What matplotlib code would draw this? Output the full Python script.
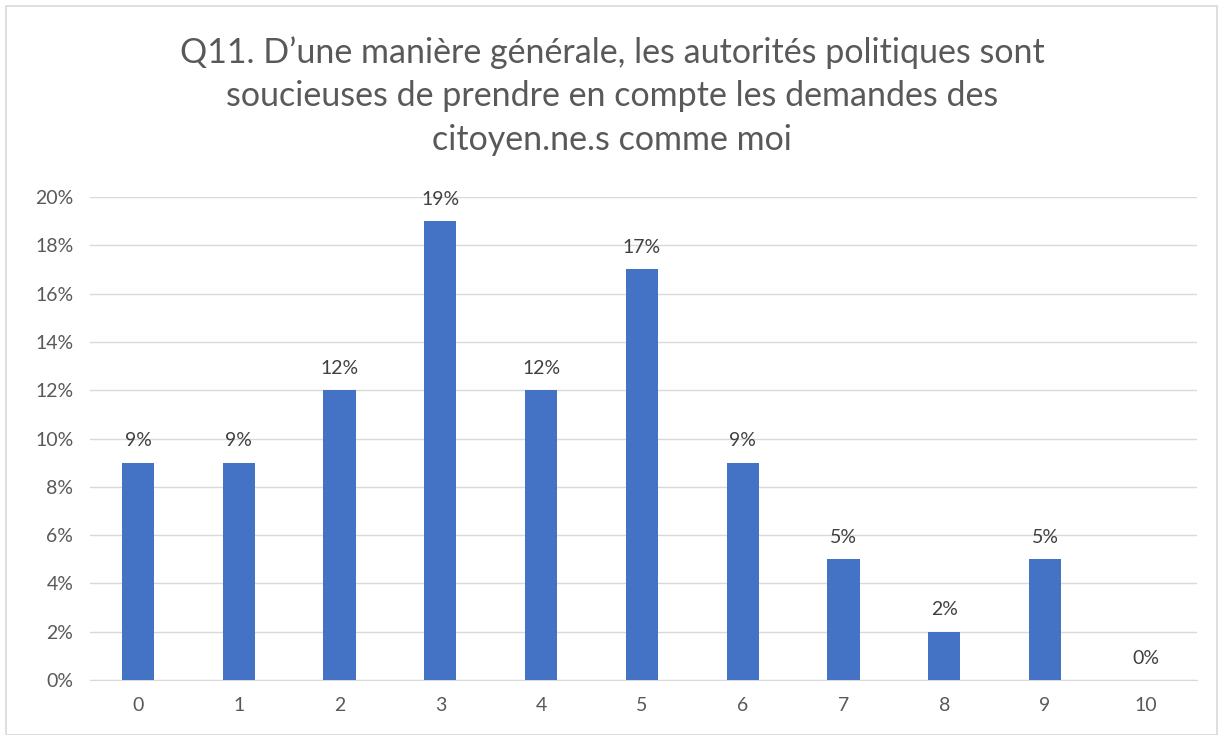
import matplotlib.pyplot as plt
from matplotlib.patches import Rectangle
from matplotlib.ticker import FuncFormatter

categories = ["0", "1", "2", "3", "4", "5", "6", "7", "8", "9", "10"]
values = [9, 9, 12, 19, 12, 17, 9, 5, 2, 5, 0]
yticks = [0, 2, 4, 6, 8, 10, 12, 14, 16, 18, 20]
title = "Q11. D\u2019une manière générale, les autorités politiques sont\nsoucieuses de prendre en compte les demandes des\ncitoyen.ne.s comme moi"

plt.rcParams['font.family'] = ['Lato', 'DejaVu Sans']

fig = plt.figure(figsize=(12.21, 7.35), dpi=100)
ax = fig.add_axes([90/1221, 1-680/735, (1197-90)/1221, (680-197)/735])

x = list(range(len(categories)))
ax.bar(x, values, width=0.32, color="#4472C4", zorder=3)
for xi, v in zip(x, values):
    ax.text(xi, v + 0.55, f"{v}%", ha="center", va="bottom", fontsize=14, color="#404040")

ax.set_xlim(-0.476, 10.508)
ax.set_ylim(0, 20)
ax.set_yticks(yticks)
ax.yaxis.set_major_formatter(FuncFormatter(lambda v, p: f"{int(v)}%"))
ax.set_xticks(x)
ax.set_xticklabels(categories)
ax.grid(axis="y", color="#d9d9d9", linewidth=1, zorder=0)
for s in ["top", "right", "left"]:
    ax.spines[s].set_visible(False)
ax.spines["bottom"].set_color("#d9d9d9")
ax.tick_params(axis="both", length=0, labelsize=14, labelcolor="#595959")
ax.tick_params(axis="x", pad=12)
ax.tick_params(axis="y", pad=12)

fig.text(612/1221, 1-96/735, title, ha="center", va="center", fontsize=24.5,
         color="#595959", linespacing=1.45)

fig.patches.append(Rectangle((6/1221, 0), 1-10/1221, 1-6/735, transform=fig.transFigure,
                             fill=False, edgecolor="#d9d9d9", linewidth=1.2))

fig.savefig("out.png", dpi=100)
